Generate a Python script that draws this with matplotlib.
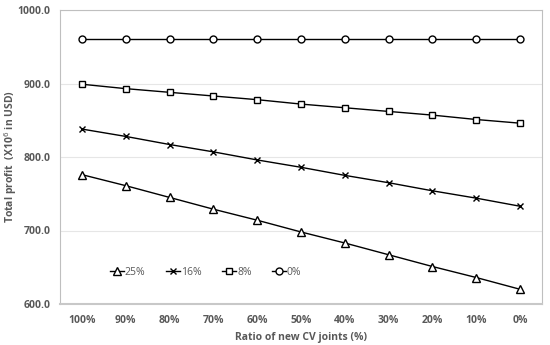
import matplotlib
matplotlib.use("Agg")
import matplotlib.pyplot as plt

categories = ["100%", "90%", "80%", "70%", "60%", "50%", "40%", "30%", "20%", "10%", "0%"]
s25 = [776, 761, 745, 729, 714, 698, 683, 667, 651, 636, 620]
s16 = [838, 828, 817, 807, 796, 786, 775, 765, 754, 744, 733]
s8 = [899, 893, 888, 883, 878, 872, 867, 862, 857, 851, 846]
s0 = [960, 960, 960, 960, 960, 960, 960, 960, 960, 960, 960]
series_labels = ["25%", "16%", "8%", "0%"]
yticks = [600, 700, 800, 900, 1000]

plt.rcParams['font.family'] = ['Open Sans', 'DejaVu Sans']
gray = "#595959"

fig = plt.figure(figsize=(5.5, 3.45), dpi=100)
ax = fig.add_axes([60/550, 1-304/345, 482/550, 294/345])
x = list(range(len(categories)))
mk = dict(color="black", lw=1.0, markerfacecolor="white", markeredgecolor="black", markeredgewidth=1.0)
ax.plot(x, s25, marker="^", markersize=5.5, label=series_labels[0], **mk)
ax.plot(x, s16, marker="x", markersize=5, label=series_labels[1], **mk)
ax.plot(x, s8, marker="s", markersize=5, label=series_labels[2], **mk)
ax.plot(x, s0, marker="o", markersize=5, label=series_labels[3], **mk)

ax.set_xlim(-0.5, len(categories) - 0.5)
ax.set_ylim(600, 1000)
ax.set_yticks(yticks)
ax.set_yticklabels([f"{v:.1f}" for v in yticks])
ax.set_xticks(x)
ax.set_xticklabels(categories)
ax.tick_params(axis="y", length=0, labelsize=7.5, labelcolor=gray, pad=7)
ax.tick_params(axis="x", length=0, labelsize=7.5, labelcolor=gray, pad=8)
for lab in ax.get_xticklabels() + ax.get_yticklabels():
    lab.set_fontweight("bold")
ax.grid(axis="y", color="#e6e6e6", lw=0.8)
ax.set_axisbelow(True)
for sp in ax.spines.values():
    sp.set_color("#bfbfbf")
    sp.set_linewidth(0.8)
ax.spines["bottom"].set_linewidth(1.5)
ax.spines["bottom"].set_color("#c8c8c8")

ax.set_ylabel("Total profit  (X10$^{6}$ in USD)", fontsize=7.5, color=gray, fontweight="bold")
ax.yaxis.set_label_coords(-41/482, 0.5)
ax.set_xlabel("Ratio of new CV joints (%)", fontsize=7.5, color=gray, fontweight="bold", labelpad=4)

leg = ax.legend(loc="center left", bbox_to_anchor=(0.085, 0.108), ncol=4, frameon=False,
                fontsize=7.5, handlelength=1.3, handletextpad=0.1, columnspacing=2.0)
for t in leg.get_texts():
    t.set_color(gray)

fig.savefig("out.png", dpi=100)
